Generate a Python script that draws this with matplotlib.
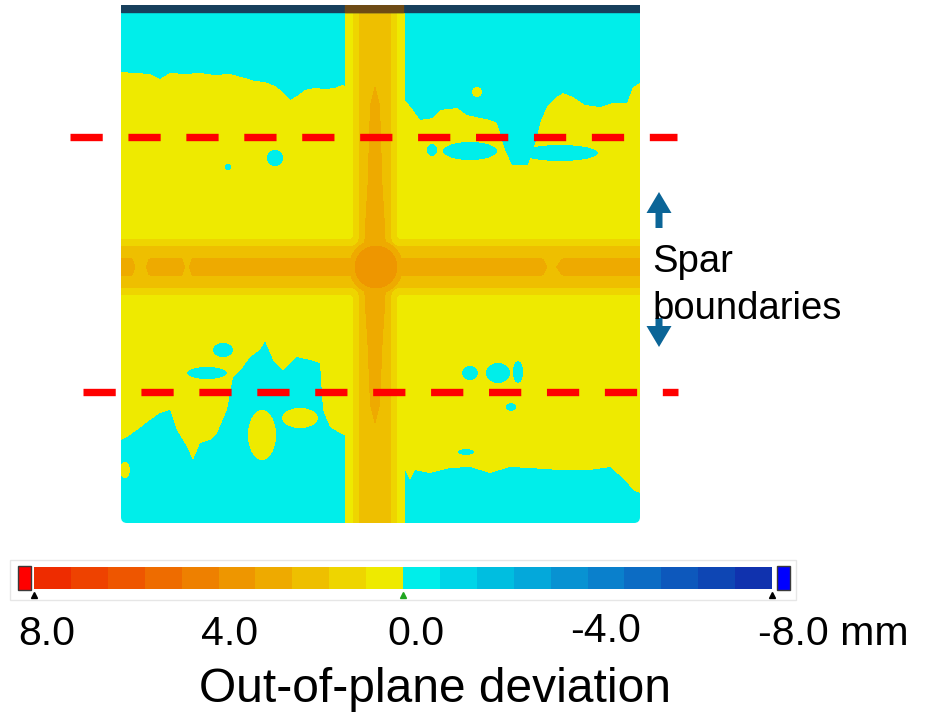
import numpy as np
import matplotlib
matplotlib.use('Agg')
import matplotlib.pyplot as plt
from matplotlib.colors import ListedColormap, BoundaryNorm
from matplotlib.patches import FancyBboxPatch, Rectangle, FancyArrow

plt.rcParams['font.family'] = ['Liberation Sans', 'DejaVu Sans']

# plate size in mm, origin at the top-left corner
plate_w, plate_h = 519, 518

# colour scale from +8 mm (left) to -8 mm (right), 0.8 mm steps
scale_colors = ['#EE2C00', '#EE4200', '#EE5600', '#EE6C00', '#EE8000',
                '#EE9600', '#EEAA00', '#EEBF00', '#EED500', '#EEEA00',
                '#00EEEA', '#00D5E8', '#00BEE0', '#04A8DA', '#0892D2',
                '#0A80CC', '#0C6CC4', '#0D58BC', '#0E46B4', '#1032AE']
scale_levels = np.linspace(-8, 8, 21)
tick_values = [8.0, 0.0, -8.0]
tick_colors = ['black', '#1fa51f', 'black']
tick_labels = ['8.0', '4.0', '0.0', '-4.0', '-8.0 mm']

# edge of the positive (yellow) zone, top side
top_x = [0, 14, 29, 39, 49, 64, 79, 94, 109, 124, 134, 144, 154, 162, 169,
         176, 184, 194, 204, 214, 221, 254, 284, 292, 299, 312, 319, 336,
         346, 359, 369, 376, 384, 391, 407, 415, 420, 426, 434, 442, 452,
         464, 479, 492, 506, 512, 519]
top_y = [67, 68, 69, 74, 68, 69, 68, 70, 69, 73, 76, 77, 81, 87, 95,
         91, 85, 83, 84, 83, 80, 90, 95, 105, 115, 113, 105, 103,
         110, 113, 115, 118, 145, 160, 160, 135, 115, 102, 93, 88, 92,
         100, 102, 98, 98, 82, 78]
# edge of the positive zone, bottom side
bot_x = [0, 6, 16, 29, 39, 49, 56, 66, 72, 79, 89, 96, 106, 112, 122, 129,
         139, 144, 152, 162, 176, 189, 199, 202, 209, 219, 254, 284, 289,
         294, 309, 329, 349, 369, 389, 409, 439, 469, 489, 504, 512, 519]
bot_y = [435, 432, 425, 415, 408, 405, 425, 442, 455, 438, 435, 428, 405,
         372, 362, 352, 345, 336, 355, 365, 352, 355, 358, 405, 422, 428,
         445, 465, 475, 465, 468, 463, 462, 468, 462, 463, 465, 465, 462,
         475, 485, 488]
# negative patches inside the positive zone (cx, cy, rx, ry)
cyan_spots = [(349, 146, 27, 9), (439, 148, 38, 8), (311, 145, 5, 6),
              (154, 153, 8, 8), (107, 162, 3, 3), (86, 368, 20, 6),
              (102, 345, 10, 7), (349, 368, 8, 7), (377, 368, 12, 10),
              (397, 367, 5, 11), (390, 402, 5, 4), (345, 447, 8, 3)]
# positive patches inside the negative zone
yellow_spots = [(356, 87, 5, 5), (141, 430, 14, 25), (179, 413, 18, 10),
                (4, 465, 5, 8)]

# spar (vertical band): deviation vs distance from its centre line
spar_y = [0, 518]
spar_x = [254, 254]
spar_d = [0, 10, 16, 22, 30, 34]
spar_v = [2.25, 2.05, 1.6, 0.8, 0.0, -0.5]
spar_core_y = [0, 60, 100, 180, 262, 340, 400, 440, 518]
spar_core_v = [0, 0.05, 0.25, 0.3, 0.4, 0.3, 0.25, 0.05, 0]

# rib (horizontal band)
rib_y = 262
rib_d = [0, 11, 21, 28, 34]
rib_v = [2.3, 2.15, 1.6, 0.8, -0.5]
rib_core_x = [0, 8, 16, 22, 30, 45, 60, 66, 72, 90, 110, 125, 140, 160,
              180, 200, 300, 320, 340, 360, 380, 400, 419, 430, 445, 470,
              490, 519]
rib_core_v = [0.3, 0.35, 0.05, 0.0, 0.3, 0.35, 0.3, 0.0, 0.3, 0.35, 0.3,
              0.25, 0.35, 0.3, 0.25, 0.3, 0.3, 0.35, 0.3, 0.25, 0.3, 0.35,
              0.3, 0.0, 0.3, 0.35, 0.3, 0.25]

# crossing point
hub_x, hub_y = 255, 262
hub_r = [0, 8, 21, 27, 33, 40]
hub_v = [3.9, 3.8, 3.25, 2.45, 0.0, -1.0]

# spar boundary lines (mm on the plate)
dash_y = [132, 387]
dash_x0 = [-51, -38]
dash_x1 = [556, 557]

# ---- field -------------------------------------------------------------
xx, yy = np.meshgrid(np.arange(plate_w) + 0.5, np.arange(plate_h) + 0.5)
top = np.interp(xx, top_x, top_y)
bot = np.interp(xx, bot_x, bot_y)
base = np.where((yy >= top) & (yy <= bot), 0.35, -0.35)
for cx, cy, rx, ry in cyan_spots:
    base[((xx - cx) / rx) ** 2 + ((yy - cy) / ry) ** 2 <= 1] = -0.35
for cx, cy, rx, ry in yellow_spots:
    base[((xx - cx) / rx) ** 2 + ((yy - cy) / ry) ** 2 <= 1] = 0.35

ds = np.abs(xx - np.interp(yy, spar_y, spar_x))
spar = np.interp(ds, spar_d, spar_v) + \
    np.interp(yy, spar_core_y, spar_core_v) * np.clip((15 - ds) / 4, 0, 1)
dr = np.abs(yy - rib_y)
rib = np.interp(dr, rib_d, rib_v) + \
    np.interp(xx, rib_core_x, rib_core_v) * np.clip((12 - dr) / 4, 0, 1)
soft = (np.clip(spar, 0, None) ** 3 + np.clip(rib, 0, None) ** 3) ** (1 / 3)
band = np.where(np.maximum(spar, rib) > 0, soft, np.maximum(spar, rib))
hub = np.interp(np.hypot(xx - hub_x, yy - hub_y), hub_r, hub_v)
z = np.maximum(np.maximum(base, band), hub)

cmap = ListedColormap(scale_colors[::-1])
cmap.set_over('#ff0000')
cmap.set_under('#0000ff')
norm = BoundaryNorm(scale_levels, cmap.N)

fig = plt.figure(figsize=(9.35, 7.15), dpi=100)

ax = fig.add_axes([121 / 935, 1 - 523 / 715, 519 / 935, 518 / 715])
im = ax.imshow(z, cmap=cmap, norm=norm, extent=(0, plate_w, plate_h, 0),
               interpolation='nearest', aspect='auto')
clip = FancyBboxPatch((0, 0), plate_w, plate_h,
                      boxstyle='round,pad=0,rounding_size=6',
                      transform=ax.transData, facecolor='none', edgecolor='none')
ax.add_patch(clip)
im.set_clip_path(clip)
ax.axhspan(0, 7, color='#173f5c', zorder=2)
ax.fill_between([spar_x[0] - 30, spar_x[0] + 28], 0, 7, color='#6e4a14', zorder=3)
ax.set_xlim(0, plate_w)
ax.set_ylim(plate_h, 0)
ax.axis('off')

for y, x0, x1 in zip(dash_y, dash_x0, dash_x1):
    ax.plot([x0, x1], [y, y], color='#ff0000', lw=5.3,
            linestyle=(0, (4.38, 3.49)), dash_capstyle='butt',
            clip_on=False, zorder=5)

# ---- colour bar ----------------------------------------------------------
cax = fig.add_axes([34 / 935, 1 - 589 / 715, 738 / 935, 22 / 715])
mids = (scale_levels[:-1] + scale_levels[1:]) / 2
cax.pcolormesh(scale_levels, [0, 1], mids[None, :], cmap=cmap, norm=norm)
cax.set_xlim(8, -8)
cax.set_ylim(0, 1)
cax.axis('off')
for v, c in zip(tick_values, tick_colors):
    cax.plot(v, -0.25, marker='^', ms=5, color=c, clip_on=False)

# ---- annotations in pixel space -----------------------------------------
ov = fig.add_axes([0, 0, 1, 1])
ov.set_xlim(0, 935)
ov.set_ylim(715, 0)
ov.axis('off')
ov.patch.set_alpha(0)

ov.add_patch(Rectangle((10, 560), 786, 40, fill=False, edgecolor='#e6e6e6', lw=1))
ov.add_patch(Rectangle((18, 566), 13, 24, facecolor='#ff0000', edgecolor='#3a3a3a', lw=1))
ov.add_patch(Rectangle((777, 566), 13, 24, facecolor='#0000ff', edgecolor='#3a3a3a', lw=1))

label_x = [47, 230, 416, 606, 758]
label_y = [645, 645, 645, 642, 645]
for x, y, t in zip(label_x, label_y, tick_labels):
    ov.text(x, y, t, fontsize=29.5, ha='left' if t.endswith('mm') else 'center',
            va='baseline')
ov.text(435, 702, 'Out-of-plane deviation', fontsize=34.5, ha='center', va='baseline')

ov.add_patch(FancyArrow(659, 228, 0, -36, width=7, head_width=25, head_length=21,
                        length_includes_head=True, color='#0b6597', lw=0))
ov.add_patch(FancyArrow(659, 318, 0, 29, width=7, head_width=25, head_length=21,
                        length_includes_head=True, color='#0b6597', lw=0))
ov.text(652, 272, 'Spar', fontsize=27.5, va='baseline')
ov.text(652, 319, 'boundaries', fontsize=27.5, va='baseline')

fig.savefig('out.png', dpi=100)
